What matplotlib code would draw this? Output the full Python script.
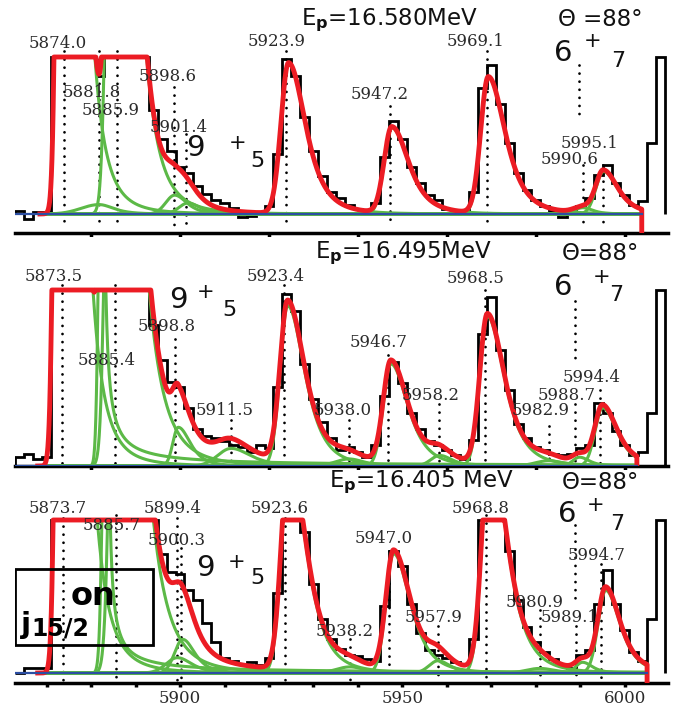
import numpy as np
import matplotlib.pyplot as plt
from matplotlib.patches import Rectangle

# ---- data ---------------------------------------------------------------
# histogram bins (keV), 2 keV wide
bin_lo, bin_hi, bin_w = 5863, 6009, 2

# measured spectra (counts, scaled so the clip level is 100)
top_counts = [2, -3, 1, 1, 150, 150, 150, 150, 140, 88, 150, 150, 150, 150, 120, 66,
              48, 40, 30, 26, 18, 13, 9, 7, 4, -2, -1, 1, 5, 38, 99, 88, 62, 40, 24, 14,
              10, 6, 3, 0, 7, 36, 59, 48, 30, 20, 12, 9, 3, 0, 2, 14, 80, 95, 70, 45,
              26, 15, 9, 5, 2, -2, 3, 5, 10, 25, 31, 20, 12, 6, 8, 45, 120]
mid_counts = [5, 7, 4, 5, 150, 150, 150, 150, 140, 150, 150, 150, 150, 150, 150, 80,
              60, 48, 45, 33, 21, 17, 16, 14, 12, 11, 8, 12, 10, 45, 98, 88, 58, 38, 25, 16,
              9, 11, 8, 5, 12, 40, 59, 47, 30, 21, 14, 12, 9, 6, 4, 15, 75, 96, 66, 43,
              24, 16, 11, 9, 7, 6, 7, 10, 12, 36, 30, 20, 12, 6, 8, 30, 120]
bot_counts = [0, 3, 3, 3, 150, 150, 150, 150, 150, 150, 150, 150, 150, 150, 150, 110,
              78, 66, 65, 54, 48, 33, 20, 10, 8, 6, 7, 5, 10, 52, 140, 130, 92, 58, 35, 22,
              16, 12, 11, 9, 8, 44, 80, 70, 45, 26, 15, 12, 10, 7, 6, 22, 110, 150, 120, 80,
              48, 30, 20, 14, 9, 6, 3, 12, 15, 45, 67, 45, 28, 14, 8, 35, 120]

# fitted peaks: centre (keV), height, left sigma, right width, tail power
top_c = [5873.8, 5881.8, 5885.4, 5898.8, 5901.8, 5924.4, 5947.6, 5969.3, 5990.6, 5995.2]
top_h = [1000, 6, 600, 12, 7, 96, 55, 87, 4, 27]
top_sl = [1.0, 4.0, 1.3, 2.0, 2.0, 1.7, 1.7, 1.7, 2.0, 1.7]
top_w = [4.8, 6.0, 5.9, 5.0, 5.0, 7.0, 7.0, 7.0, 4.0, 6.0]
top_p = [2, 2, 2, 2, 2, 2, 2, 2, 2, 2]

mid_c = [5873.3, 5882.6, 5885.0, 5899.6, 5911.5, 5924.2, 5938.0, 5947.4, 5958.4, 5969.1, 5982.9, 5989.8, 5995.0]
mid_h = [1000, 300, 560, 22, 10, 91, 4, 58, 6, 85, 3, 5, 33]
mid_sl = [1.0, 0.7, 1.2, 1.2, 3.0, 1.7, 3.0, 1.7, 2.0, 1.7, 3.0, 1.5, 1.7]
mid_w = [4.85, 0.26, 6.9, 5.0, 8.0, 7.0, 6.0, 7.0, 5.0, 7.0, 6.0, 4.0, 6.0]
mid_p = [2, 0.5, 2, 2, 2, 2, 2, 2, 2, 2, 2, 2, 2]

bot_c = [5873.6, 5883.6, 5886.0, 5899.4, 5900.6, 5924.5, 5938.2, 5948.0, 5958.0, 5969.6, 5980.9, 5990.5, 5995.7]
bot_h = [1000, 300, 470, 10, 22, 140, 4, 78, 8, 150, 3, 7, 54]
bot_sl = [1.0, 0.8, 1.3, 2.5, 1.8, 1.7, 3.0, 1.7, 2.0, 1.7, 3.0, 1.5, 1.7]
bot_w = [5.3, 0.25, 7.4, 6.0, 5.0, 7.0, 6.0, 7.0, 5.0, 7.0, 6.0, 4.0, 6.0]
bot_p = [2, 0.5, 2, 2, 2, 2, 2, 2, 2, 2, 2, 2, 2]

# fit range (keV)
top_fit = (5868.5, 6003.8)
mid_fit = (5868.0, 6002.7)
bot_fit = (5868.0, 6005.0)

# energy labels: text, label x, label y, top of dotted line
top_labels = [("5874.0", 5872.4, 108.9, 104), ("5881.8", 5880.2, 77.1, 104),
              ("5885.9", 5884.3, 66.2, 104), ("5898.6", 5897.1, 87.3, 81),
              ("5901.4", 5899.6, 55.4, 51), ("5923.9", 5921.8, 109.6, 104),
              ("5947.2", 5944.9, 76.4, 69), ("5969.1", 5966.5, 109.6, 104),
              ("5995.1", 5992.1, 44.6, 31), ("5990.6", 5987.6, 34.4, 31)]
mid_labels = [("5873.5", 5871.7, 107.4, 103), ("5885.4", 5883.6, 59.7, 103),
              ("5898.8", 5897.1, 79.0, 72), ("5911.5", 5910.1, 31.8, 26),
              ("5923.4", 5921.6, 107.4, 103), ("5938.0", 5936.6, 31.8, 26),
              ("5946.7", 5944.7, 69.9, 63), ("5958.2", 5956.4, 39.8, 35),
              ("5968.5", 5966.5, 106.8, 100), ("5994.4", 5992.6, 50.0, 43),
              ("5988.7", 5987.0, 39.8, 35), ("5982.9", 5981.1, 31.3, 23)]
bot_labels = [("5873.7", 5872.6, 107.8, 101), ("5885.7", 5884.7, 96.7, 103),
              ("5899.4", 5898.4, 107.8, 101), ("5900.3", 5899.3, 86.9, 82),
              ("5923.6", 5922.5, 107.8, 101), ("5938.2", 5937.1, 26.8, 22),
              ("5947.0", 5945.8, 87.6, 80), ("5957.9", 5956.9, 36.6, 31),
              ("5968.8", 5967.6, 107.8, 103), ("5994.7", 5993.7, 76.5, 71),
              ("5980.9", 5979.8, 46.4, 41), ("5989.1", 5987.6, 36.6, 31)]

# beam energy headings (text, centre keV)
top_title = [("E$_\\mathbf{p}$=16.580MeV", 5947.2), ("Θ =88°", 5994.4)]
mid_title = [("E$_\\mathbf{p}$=16.495MeV", 5950.3), ("Θ=88°", 5994.4)]
bot_title = [("E$_\\mathbf{p}$=16.405 MeV", 5954.2), ("Θ=88°", 5994.6)]

# ---- drawing ------------------------------------------------------------
RED = '#ec1c24'
GREEN = '#5cb947'
BLUE = '#2c4fa3'
TXT = '#2a2a2a'
CLIP = 100
X0, X1 = 5862.9, 6009.7


def peak(x, c, h, sl, w, p):
    d = x - c
    return h * np.where(d < 0, np.exp(-0.5 * (d / sl) ** 2), (1 + (d / w) ** 2) ** (-p))


W, H = 685, 706
fig = plt.figure(figsize=(W / 100, H / 100), dpi=100)


def panel(top_px, bot_px, base_px, scale):
    ax = fig.add_axes([15 / W, 1 - bot_px / H, 653 / W, (bot_px - top_px) / H])
    ax.set_xlim(X0, X1)
    ax.set_ylim((base_px - bot_px) / scale, (base_px - top_px) / scale)
    for s in ['top', 'left', 'right']:
        ax.spines[s].set_visible(False)
    ax.spines['bottom'].set_linewidth(2.5)
    ax.set_yticks([])
    ax.tick_params(axis='x', which='both', direction='out', length=3, width=2.5,
                   labelsize=12, labelcolor=TXT, pad=2)
    return ax


axes = [panel(0, 233, 214, 1.57), panel(237, 466, 466, 1.76), panel(470, 683, 673, 1.53)]

edges = np.arange(bin_lo, bin_hi + 1, bin_w)
spectra = [top_counts, mid_counts, bot_counts]
fits = [(top_c, top_h, top_sl, top_w, top_p), (mid_c, mid_h, mid_sl, mid_w, mid_p),
        (bot_c, bot_h, bot_sl, bot_w, bot_p)]
ranges = [top_fit, mid_fit, bot_fit]
labels = [top_labels, mid_labels, bot_labels]
titles = [top_title, mid_title, bot_title]
marks_95 = [(5903.4, 42.0, 5913.0, 45.2, 5917.3, 33.8),
            (5899.6, 94.3, 5905.8, 98.9, 5911.2, 88.6),
            (5905.8, 68.6, 5912.6, 72.5, 5917.3, 62.1)]
marks_67 = [(5986.1, 102.5, 5992.8, 110.2, 5998.4, 97.5, 5989.6, 95, 62),
            (5986.1, 101.7, 5994.8, 107.4, 5998.0, 97.2, 5988.9, 94, 60),
            (5987.0, 103.9, 5993.5, 110.0, 5998.2, 97.4, 5988.8, 97, 48)]
title_y = [123.6, 121.0, 124.8]

for i, ax in enumerate(axes):
    ylo = ax.get_ylim()[0]
    # spectrum
    ax.stairs(np.minimum(spectra[i], CLIP), edges, color='black', lw=2.0, zorder=2)
    # dotted markers + labels
    for txt, lx, ly, ltop in labels[i]:
        e = float(txt)
        ax.plot([e, e], [ltop, ylo + 0.35 * (0 - ylo) if ylo < 0 else 0.5], color='black',
                lw=2.0, ls=(0, (0.01, 2.9)), dash_capstyle='round', zorder=3)
        ax.text(lx, ly, txt, ha='center', va='center', fontsize=12, color=TXT,
                family='DejaVu Serif', zorder=6)
    # fit components and sum
    xs = np.linspace(ranges[i][0], ranges[i][1], 3000)
    comps = [peak(xs, *a) for a in zip(*fits[i])]
    for cv in comps:
        ax.plot(xs, np.minimum(cv, CLIP), color=GREEN, lw=2.2, zorder=4)
    tot = np.minimum(sum(comps), CLIP)
    ax.plot(np.append(xs, xs[-1]), np.append(tot, ylo), color=RED, lw=3.5,
            solid_joinstyle='round', zorder=5)
    ax.plot([X0, ranges[i][1]], [0, 0], color=BLUE, lw=1.6, zorder=5)
    # heading
    for txt, tx in titles[i]:
        ax.text(tx, title_y[i], txt, ha='center', va='center', fontsize=16.5, color='#111')
    # spin labels
    a, b, c, d, e, f = marks_95[i]
    ax.text(a, b, '9', ha='center', va='center', fontsize=21, color='#111')
    ax.text(c, d, '+', ha='center', va='center', fontsize=15, color='#111')
    ax.text(e, f, '5', ha='center', va='center', fontsize=16, color='#111')
    a, b, c, d, e, f, lx, l0, l1 = marks_67[i]
    ax.text(a, b, '6', ha='center', va='center', fontsize=21, color='#111')
    ax.text(c, d, '+', ha='center', va='center', fontsize=15, color='#111')
    ax.text(e, f, '7', ha='center', va='center', fontsize=16, color='#111')
    ax.plot([lx, lx], [l0, l1], color='black', lw=2.0, ls=(0, (0.01, 2.9)),
            dash_capstyle='round', zorder=3)

# ticks
for ax in axes[:2]:
    ax.set_xticks(np.arange(5880, 6001, 20))
    ax.set_xticklabels([])
ax = axes[2]
ax.set_xticks([5900, 5950, 6000])
ax.set_xticklabels(['5900', '5950', '6000'], family='DejaVu Serif')
ax.set_xticks(np.arange(5870, 6001, 10), minor=True)

# orbital box
ax.add_patch(Rectangle((5862.9, 18.3), 31.0, 49.7, fill=False, lw=2.0, ec='black', zorder=7))
ax.text(5880.4, 50.3, 'on', ha='center', va='center', fontsize=23, weight='bold', zorder=7)
ax.text(5865.4, 31.4, 'j', ha='center', va='center', fontsize=21, weight='bold', zorder=7)
ax.text(5873.0, 29.0, '15/2', ha='center', va='center', fontsize=17, weight='bold', zorder=7)

fig.savefig('out.png', dpi=100)
